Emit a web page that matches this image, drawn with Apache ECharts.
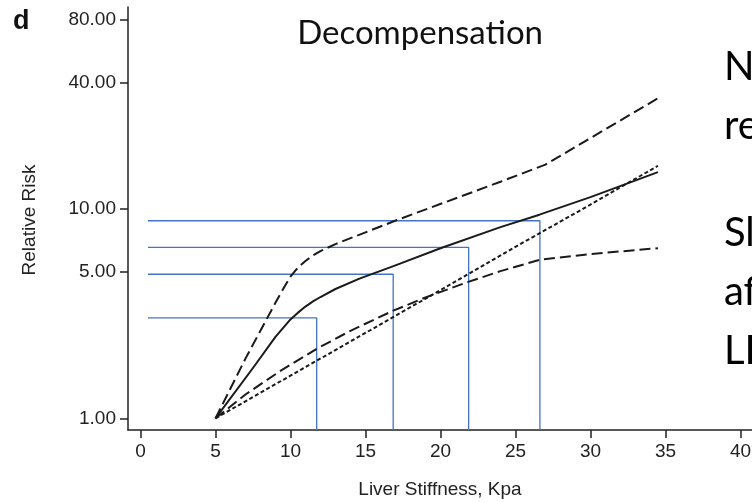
<!DOCTYPE html>
<html><head><meta charset="utf-8">
<script src="https://cdn.jsdelivr.net/npm/echarts@6/dist/echarts.min.js"></script>
<style>html,body{margin:0;padding:0;background:#fff}#c{width:752px;height:502px}</style>
</head><body><div id="c"></div>
<script>
// ---- data ----
const xTicks = [0, 5, 10, 15, 20, 25, 30, 35, 40];
const yTicks = [1, 5, 10, 40, 80];
const estX = [5, 7.5, 9, 10, 10.5, 11, 11.5, 12, 13, 14.6, 17, 20, 24, 26.6, 30, 34.5];
const estY = [1, 1.74, 2.45, 2.97, 3.2, 3.42, 3.62, 3.8, 4.15, 4.65, 5.38, 6.5, 8.2, 9.4, 11.4, 15.0];
const upperX = [5, 7, 9.1, 9.6, 10, 10.5, 11, 11.5, 12, 13, 17.1, 24, 27, 34.5];
const upperY = [1, 1.93, 3.68, 4.25, 4.75, 5.25, 5.65, 6.0, 6.3, 6.8, 8.86, 13.5, 16.3, 33.8];
const lowerX = [5, 7, 9.3, 11.75, 14, 16.85, 19, 21.9, 24, 26.6, 30, 34.5];
const lowerY = [1, 1.3, 1.68, 2.15, 2.62, 3.27, 3.78, 4.5, 5.05, 5.72, 6.1, 6.5];
const refX = [5, 10, 15, 20, 25, 30, 34.5];
const refY = [1, 1.6, 2.56, 4.1, 6.6, 10.5, 16.1];
const guideX = [11.75, 16.85, 21.88, 26.63];
const guideY = [3.02, 4.88, 6.56, 8.79];
const guideStartX = 0.5;
const xMin = -0.83, xMax = 40.77;
const yMin = 0.88, yMax = 92.3;
const slideLines = ['N', 're', 'Sl', 'af', 'LF'];

// ---- chart ----
const pairs = (xs, ys) => xs.map((x, i) => [x, ys[i]]);
const black = '#1a1a1a';
const axisColor = '#222';
const chart = echarts.init(document.getElementById('c'), null, {renderer: 'canvas'});

const guideSeries = guideX.map((gx, i) => ({
  type: 'line',
  data: [[guideStartX, guideY[i]], [gx, guideY[i]], [gx, yMin]],
  symbol: 'none', silent: true, z: 1,
  lineStyle: {color: '#4472c4', width: 1.3}
}));

const curve = (xs, ys, dash, w) => ({
  type: 'line', data: pairs(xs, ys), symbol: 'none', z: 3,
  smooth: false,
  lineStyle: {color: black, width: w, type: dash, join: 'round', cap: 'butt'}
});

const slideY = [67, 126, 233, 292, 351];

chart.setOption({
  animation: false,
  backgroundColor: '#fff',
  grid: {left: 128, right: 0, top: 7, bottom: 72, containLabel: false, outerBoundsMode: 'none'},
  xAxis: {
    type: 'value', min: xMin, max: xMax,
    axisLine: {show: true, onZero: false, lineStyle: {color: axisColor, width: 1.5}},
    axisTick: {show: true, length: 8, customValues: xTicks, lineStyle: {color: axisColor, width: 1.5}},
    axisLabel: {customValues: xTicks, color: axisColor, fontSize: 19, fontFamily: 'Liberation Sans, Arial', margin: 12},
    splitLine: {show: false}
  },
  yAxis: {
    type: 'log', logBase: 10, min: yMin, max: yMax,
    axisLine: {show: true, onZero: false, lineStyle: {color: axisColor, width: 1.5}},
    axisTick: {show: true, length: 8, customValues: yTicks, lineStyle: {color: axisColor, width: 1.5}},
    axisLabel: {customValues: yTicks, formatter: v => Number(v).toFixed(2), color: axisColor, fontSize: 19, fontFamily: 'Liberation Sans, Arial', margin: 12},
    splitLine: {show: false}, minorTick: {show: false}
  },
  graphic: [
    {type: 'text', x: 13, y: 22, style: {text: 'd', font: 'bold 27px "Liberation Sans", Arial', fill: '#111', textAlign: 'left', textVerticalAlign: 'middle'}},
    {type: 'text', x: 543, y: 33, style: {text: 'Decompensation', font: '33px Lato', fill: '#111', textAlign: 'right', textVerticalAlign: 'middle'}},
    {type: 'text', x: 30, y: 220, rotation: Math.PI / 2, style: {text: 'Relative Risk', font: '19px "Liberation Sans", Arial', fill: axisColor, textAlign: 'center', textVerticalAlign: 'middle'}},
    {type: 'text', x: 440, y: 490, style: {text: 'Liver Stiffness, Kpa', font: '19px "Liberation Sans", Arial', fill: axisColor, textAlign: 'center', textVerticalAlign: 'middle'}},
    ...slideLines.map((t, i) => ({type: 'text', x: 724, y: slideY[i], style: {text: t, font: '40px Lato', fill: '#000', textAlign: 'left', textVerticalAlign: 'middle'}}))
  ],
  series: [
    ...guideSeries,
    curve(upperX, upperY, [11, 5], 2),
    curve(estX, estY, 'solid', 2),
    curve(lowerX, lowerY, [11, 5], 2),
    curve(refX, refY, [4, 2.5], 2)
  ]
});
</script>
</body></html>
